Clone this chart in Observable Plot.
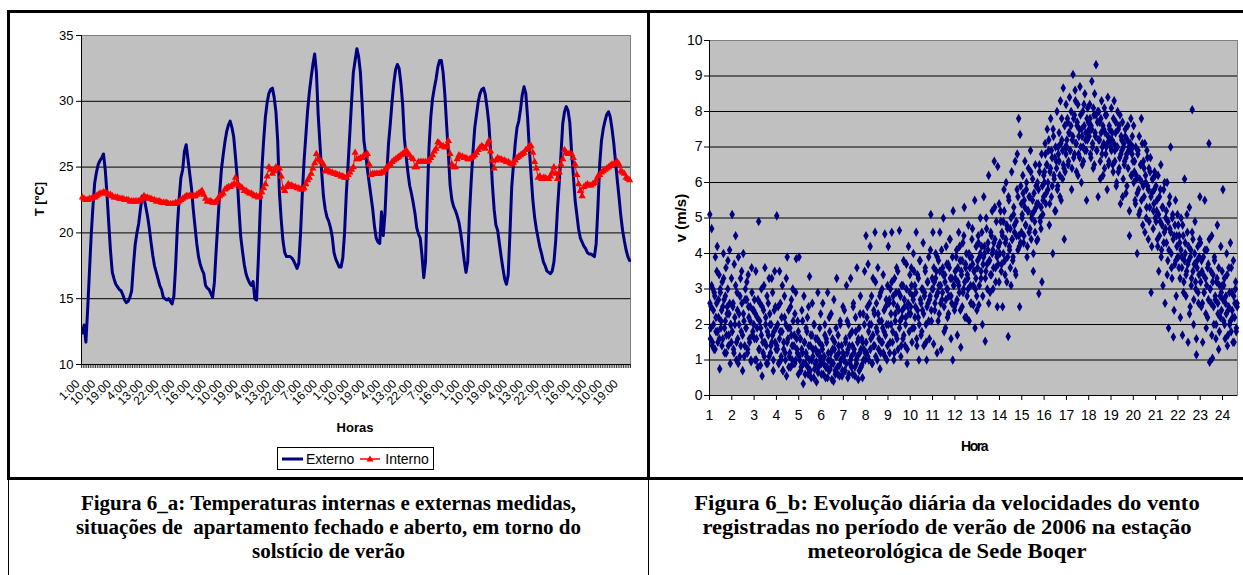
<!DOCTYPE html>
<html>
<head>
<meta charset="utf-8">
<script src="https://cdn.jsdelivr.net/npm/d3@7"></script>
<script src="https://cdn.jsdelivr.net/npm/@observablehq/plot@0.6"></script>
<style>
  html, body { margin: 0; padding: 0; background: #fff; }
  #page { position: relative; width: 1243px; height: 575px; overflow: hidden; background: #fff; font-family: "Liberation Sans", Arial, sans-serif; }
  .b { position: absolute; background: #000; }
  .cap { position: absolute; text-align: center; font-family: "Liberation Serif", "Times New Roman", serif; font-weight: bold; font-size: 20px; line-height: 24px; color: #000; transform-origin: center top; }
  .lbl { position: absolute; font-weight: bold; color: #000; white-space: nowrap; }
  #legend { position: absolute; left: 277px; top: 447px; width: 155px; height: 21px; border: 1px solid #000; background: #fff; font-size: 14px; display: flex; align-items: center; }
  #left, #right { position: absolute; top: 0; }
  #left { left: 0; } #right { left: 651px; }
</style>
</head>
<body>
<div id="page">
  <div id="left"></div>
  <div id="right"></div>
  <div class="lbl" style="left:39px;top:199px;font-size:13px;transform:translate(-50%,-50%) rotate(-90deg);">T [ºC]</div>
  <div class="lbl" style="left:355px;top:427px;font-size:13px;transform:translate(-50%,-50%);">Horas</div>
  <div class="lbl" style="left:680px;top:218px;font-size:15px;transform:translate(-50%,-50%) rotate(-90deg);">v (m/s)</div>
  <div class="lbl" style="left:974px;top:446px;font-size:14px;letter-spacing:-1.5px;transform:translate(-50%,-50%);">Hora</div>
  <div id="legend">
    <svg width="24" height="10" style="margin-left:4px"><line x1="0" y1="5" x2="21" y2="5" stroke="#000080" stroke-width="3"/></svg>
    <span>Externo</span>
    <svg width="24" height="12" style="margin-left:6px"><line x1="0" y1="6" x2="20" y2="6" stroke="#ff0000" stroke-width="1.5"/><path d="M10,2.5 L13.5,8.5 L6.5,8.5 Z" fill="#ff0000"/></svg>
    <span style="margin-left:1px">Interno</span>
  </div>
  <div class="b" style="left:7px;top:10px;width:1236px;height:3px"></div>
  <div class="b" style="left:7px;top:10px;width:3px;height:470px"></div>
  <div class="b" style="left:647px;top:10px;width:3px;height:470px"></div>
  <div class="b" style="left:7px;top:477px;width:1236px;height:3px"></div>
  <div class="b" style="left:8px;top:480px;width:1px;height:95px"></div>
  <div class="b" style="left:648px;top:480px;width:1px;height:95px"></div>
  <div class="cap" style="left:9px;width:639px;top:491px;transform:scaleX(1.05);">Figura 6_a: Temperaturas internas e externas medidas,<br>situações de&nbsp; apartamento fechado e aberto, em torno do<br>solstício de verão</div>
  <div class="cap" style="left:651px;width:592px;top:491px;transform:scaleX(1.13);">Figura 6_b: Evolução diária da velocidades do vento<br>registradas no período de verão de 2006 na estação<br>meteorológica de Sede Boqer</div>
</div>
<script>
// ---------- Figura 6_a : hourly temperatures (13 days x 24 h) ----------
const externo = [
  12.4,13.0,11.7,14.2,17.0,19.8,22.0,23.8,24.6,25.2,25.5,25.7,26.0,24.8,22.9,20.7,18.6,17.0,16.5,16.1,15.9,15.7,15.6,15.3,
  14.9,14.7,14.8,15.1,15.6,17.5,19.1,20.0,20.7,21.8,22.8,22.7,22.0,21.3,20.4,19.3,18.3,17.5,17.0,16.5,16.0,15.7,15.1,15.0,
  14.9,15.0,14.8,14.6,15.2,17.5,20.5,22.6,24.2,24.8,26.2,26.7,25.6,24.5,23.4,21.8,20.5,19.2,18.2,17.6,17.2,16.9,16.0,15.8,
  15.7,15.4,15.1,16.2,18.6,20.8,23.0,24.8,25.9,26.9,27.7,28.2,28.5,28.0,27.3,25.8,24.2,21.8,19.7,18.6,17.6,16.9,16.5,16.2,
  16.0,16.3,15.0,14.9,18.0,21.5,24.8,27.0,28.8,29.9,30.6,30.9,31.0,30.3,29.2,27.0,23.0,21.0,19.4,18.5,18.2,18.2,18.2,18.1,
  17.9,17.6,17.3,17.7,20.0,23.0,25.5,27.4,29.3,30.7,31.8,32.8,33.6,32.2,29.0,26.8,24.6,22.8,21.8,21.2,20.9,20.4,19.7,18.5,
  18.0,17.7,17.4,17.4,18.1,20.0,23.0,25.2,27.6,30.0,32.2,33.1,34.0,33.4,32.2,29.8,27.0,26.0,24.8,23.8,22.8,21.8,20.5,19.6,
  19.3,19.2,21.6,19.8,21.5,24.5,26.8,28.3,30.0,31.4,32.4,32.8,32.5,31.4,29.8,27.2,25.8,24.6,23.6,23.0,22.3,21.5,20.4,19.9,
  19.6,18.3,16.6,17.8,22.5,26.5,28.8,30.2,31.0,31.7,32.6,33.1,33.1,32.2,30.5,28.2,26.0,23.6,22.5,22.0,21.7,21.3,20.8,20.0,
  19.0,17.9,17.0,17.8,21.5,24.0,26.2,28.0,29.0,30.0,30.6,30.9,31.0,30.5,29.5,28.3,26.2,23.7,21.8,20.6,20.2,19.2,18.2,17.3,
  16.5,16.1,16.8,20.0,23.5,25.2,26.8,28.0,28.5,29.4,30.5,31.1,30.6,28.8,26.4,24.4,22.5,21.2,20.3,19.6,18.9,18.4,17.8,17.5,
  17.1,17.0,16.9,17.1,17.8,19.4,21.8,23.8,26.0,28.3,29.2,29.6,29.3,28.4,26.2,24.4,22.5,21.4,20.3,19.6,19.3,19.0,18.8,18.5,
  18.4,18.4,18.3,18.2,19.2,22.0,25.2,27.0,27.9,28.5,29.0,29.2,28.8,27.9,26.8,25.4,24.0,22.7,21.3,20.2,19.4,18.7,18.2,17.9
];
const interno = [
  22.7,22.6,22.5,22.5,22.6,22.6,22.7,22.7,22.8,22.9,23.0,23.0,23.1,23.1,23.0,22.9,22.9,22.8,22.7,22.7,22.7,22.6,22.6,22.6,
  22.5,22.5,22.5,22.4,22.4,22.4,22.4,22.4,22.4,22.5,22.6,22.8,22.7,22.7,22.6,22.6,22.5,22.5,22.4,22.4,22.4,22.3,22.3,22.3,
  22.3,22.2,22.2,22.2,22.2,22.3,22.3,22.4,22.5,22.6,22.7,22.8,22.8,22.8,22.8,22.8,22.8,22.9,23.0,23.1,23.2,22.9,22.6,22.4,
  22.4,22.4,22.3,22.3,22.4,22.6,22.8,22.9,23.0,23.3,23.4,23.5,23.5,23.6,23.7,24.2,23.8,23.6,23.5,23.4,23.2,23.2,23.1,23.0,
  23.0,22.9,22.8,22.8,22.7,22.8,23.1,23.4,23.7,24.3,25.0,24.8,24.5,24.7,25.0,24.9,24.9,24.3,23.4,23.2,23.5,23.7,23.6,23.6,
  23.5,23.5,23.4,23.4,23.3,23.3,23.4,23.7,24.0,24.2,24.5,24.9,25.3,26.0,25.6,25.5,25.4,25.2,24.7,24.7,24.7,24.6,24.6,24.5,
  24.5,24.4,24.4,24.3,24.3,24.2,24.2,24.4,24.6,24.8,25.0,26.1,25.6,25.6,25.7,25.7,25.9,25.9,26.0,25.2,24.4,24.5,24.5,24.5,
  24.5,24.5,24.6,24.6,24.8,25.0,25.1,25.2,25.4,25.5,25.6,25.7,25.8,25.9,26.0,26.1,26.3,26.0,25.9,25.7,25.6,25.0,25.0,25.4,
  25.4,25.4,25.4,25.4,25.4,25.5,25.7,25.9,26.2,26.4,26.9,26.8,26.6,26.6,26.5,26.6,27.0,26.0,25.2,25.0,25.0,25.6,25.9,25.8,
  25.8,25.7,25.7,25.6,25.6,25.7,25.8,25.9,26.1,26.3,26.5,26.6,26.5,26.4,26.7,27.0,26.2,25.5,24.9,25.5,25.7,25.6,25.6,25.5,
  25.5,25.4,25.4,25.3,25.2,25.3,25.5,25.7,25.8,25.9,26.0,26.1,26.3,26.4,26.6,26.6,26.1,25.4,24.9,24.2,24.3,24.1,24.2,24.2,
  24.1,24.1,24.3,24.6,25.0,24.5,24.1,24.6,25.2,25.6,26.3,26.1,26.0,26.0,26.0,25.7,25.2,24.4,23.7,23.2,22.8,23.5,23.6,23.7,
  23.6,23.6,23.7,23.8,24.0,24.3,24.4,24.6,24.7,24.8,24.9,25.0,25.1,25.2,25.2,25.3,25.4,25.2,24.7,24.6,24.5,24.2,24.1,24.0
];
// category tick labels, one every 9 hours
const horaLabels = ["1:00","10:00","19:00","4:00","13:00","22:00","7:00","16:00",
  "1:00","10:00","19:00","4:00","13:00","22:00","7:00","16:00",
  "1:00","10:00","19:00","4:00","13:00","22:00","7:00","16:00",
  "1:00","10:00","19:00","4:00","13:00","22:00","7:00","16:00",
  "1:00","10:00","19:00"];
const tempTicks = [10, 15, 20, 25, 30, 35];

// ---------- Figura 6_b : wind speed readings, grouped by hour of day ----------
// series A
const v01 = [5.1,1.6,2.5,4.7,1.4,3.0,2.0,1.3,2.8,3.9,1.8,2.6,4.2,1.5,2.2,3.4,0.75,2.9,1.9,2.4,3.2,1.6,4.0,2.7,1.2,2.1,3.6,1.7,2.5,3.0,1.4,2.3,4.1,0.9,2.0,3.3];
const v02 = [5.1,2.5,1.3,3.7,2.0,4.5,1.0,2.9,1.6,3.9,2.3,1.1,3.3,1.8,2.6,0.7,4.0,2.1,1.4,3.0,1.9,2.7,1.2,3.4,2.2,1.5,2.5,1.0,3.6,1.7,2.4,2.0];
const v03 = [2.7,1.0,3.5,1.6,2.2,0.8,4.9,1.3,2.6,1.9,3.0,0.55,1.5,2.4,1.1,3.6,2.0,1.4,2.8,0.9,1.7,3.3,2.3,1.2,2.0,1.5,2.9,0.7,1.8,3.5,2.5,1.3];
const v04 = [5.06,1.3,2.5,0.9,3.5,1.8,1.0,2.2,3.1,0.7,1.5,2.8,1.2,2.0,0.55,3.9,1.6,2.4,1.1,1.9,0.8,2.7,1.4,3.0,0.9,1.7,2.3,1.0,3.85,1.3,2.1,0.6];
const v05 = [3.9,1.0,1.6,0.8,2.4,1.2,0.33,2.8,1.5,0.9,1.9,1.1,2.2,0.6,1.4,3.35,0.7,1.7,1.0,2.6,1.3,0.5,2.0,0.9,1.6,0.38,1.2,2.9,0.8,1.5,1.1,2.3];
const v06 = [0.6,1.4,2.6,0.9,1.1,2.0,0.5,1.6,0.8,2.9,1.2,0.7,1.8,1.0,2.3,0.45,1.3,0.9,2.7,1.5,0.6,1.1,3.3,0.8,1.7,1.2,0.55,2.1,1.0,1.4,0.7,2.5];
const v07 = [1.0,2.4,0.7,1.6,3.1,1.2,0.5,2.0,1.4,0.9,3.3,1.1,1.8,0.6,2.6,1.3,0.8,2.2,1.0,3.6,1.5,0.45,1.9,1.2,2.8,0.8,1.6,0.5,2.3,1.3,3.5,1.0];
const v08 = [4.5,1.2,2.5,3.7,1.0,2.0,4.2,1.6,2.8,0.9,3.3,1.4,2.3,4.6,1.1,2.6,1.8,3.6,1.3,2.1,0.75,2.9,1.5,3.0,1.9,1.2,2.4,4.55,1.7,2.7,1.0,3.1];
const v09 = [4.2,2.6,1.2,3.0,2.0,4.6,1.5,2.8,1.0,3.3,2.3,1.7,3.6,2.5,1.3,2.9,4.65,2.1,1.1,3.1,2.4,1.6,3.8,2.7,1.4,2.2,3.0,0.9,2.5,4.2,1.8,3.4];
const v10 = [2.3,3.6,1.5,2.8,4.0,1.9,3.1,2.5,4.6,1.4,3.4,2.2,1.0,3.8,2.7,1.7,3.0,2.4,4.3,1.4,2.9,3.5,2.0,1.0,3.2,2.6,3.9,1.6,2.8,5.1,2.1,3.3];
const v11 = [4.6,1.45,3.2,2.6,4.0,3.5,1.2,2.9,3.8,2.3,4.6,3.1,1.3,2.7,3.6,5.0,2.5,3.4,1.9,4.2,3.0,2.2,3.7,2.8,4.4,3.3,1.6,2.6,3.9,5.2,3.1,2.4];
const v12 = [3.5,2.6,4.1,1.7,3.2,4.6,2.9,3.8,1.36,3.4,2.5,4.3,3.0,5.3,2.2,3.6,4.0,2.8,3.3,4.8,2.1,3.9,3.1,2.6,4.4,3.7,2.55,3.5,5.5,3.0,4.2,2.4];
const v13 = [3.6,4.5,2.55,3.9,5.0,3.3,4.2,2.0,3.7,5.6,4.0,1.53,3.5,4.7,3.0,4.3,6.2,3.8,2.9,4.6,3.4,5.2,4.1,3.6,6.6,4.4,3.2,4.9,3.9,6.45,4.2,5.4];
const v14 = [4.0,5.2,3.5,4.6,2.5,4.9,5.8,3.8,4.3,6.0,3.2,4.7,1.66,5.5,4.1,3.6,5.0,6.3,4.4,3.9,5.3,4.8,6.6,3.4,4.5,6.8,5.6,7.8,4.2,7.35,5.9,4.6];
const v15 = [5.0,6.2,4.3,5.5,6.6,4.8,5.8,3.9,5.2,6.4,4.6,5.6,6.9,4.4,5.1,6.1,3.5,5.7,4.9,6.5,5.3,4.35,6.0,5.4,2.87,6.3,5.0,4.7,6.8,5.9,5.5,6.2];
const v16 = [6.0,7.1,5.4,6.5,7.5,5.8,6.9,4.8,6.3,7.8,5.6,6.7,4.0,7.3,6.1,5.2,7.0,6.6,8.0,5.9,6.8,7.4,6.2,8.3,5.5,7.2,6.9,8.66,6.4,7.6,7.0,8.2];
const v17 = [7.0,7.8,6.5,7.4,8.4,6.9,7.6,5.8,7.2,9.04,6.7,7.9,8.6,7.1,6.3,7.7,8.2,6.8,7.5,8.7,7.0,6.0,7.3,8.0,6.6,7.6,8.5,7.2,6.9,7.8,8.1,7.4];
const v18 = [7.5,8.2,6.8,7.6,8.85,7.1,6.4,7.9,8.5,7.3,9.32,6.9,7.7,5.6,8.0,7.2,6.6,7.8,8.3,7.0,6.2,7.5,8.1,7.4,6.8,7.9,7.1,8.4,6.5,7.6,7.2,7.0];
const v19 = [8.1,7.2,6.5,7.8,8.3,6.9,7.4,5.9,7.0,8.0,6.3,7.6,6.7,5.4,7.3,6.9,7.7,6.1,7.1,6.6,7.5,5.7,6.8,7.2,6.4,7.0,4.5,6.9,7.8,6.2,7.3,6.6];
const v20 = [7.6,6.3,5.5,7.0,6.1,4.0,6.8,5.8,7.3,5.2,6.5,7.8,6.0,4.8,6.6,5.6,7.1,6.2,5.0,6.9,5.9,4.4,6.4,5.3,6.7,2.9,5.7,6.1,4.7,5.4,6.3,5.0];
const v21 = [5.9,5.2,4.4,6.2,3.5,5.6,4.9,6.5,4.1,5.3,3.1,5.8,4.6,2.6,5.0,4.3,6.0,3.8,1.9,5.4,4.7,7.0,4.0,3.3,5.1,1.65,4.5,3.7,5.5,2.8,4.2,3.9];
const v22 = [4.8,3.6,4.3,2.2,5.0,3.9,1.7,4.5,3.2,6.1,4.0,2.8,3.5,4.6,1.5,3.8,5.3,2.5,4.1,3.3,8.05,4.4,2.0,3.7,4.9,3.0,1.15,3.6,4.2,2.6,3.9,5.6];
const v23 = [4.3,2.5,3.5,1.5,3.9,2.9,5.5,3.3,1.9,4.1,2.2,3.7,7.1,0.94,3.0,2.6,4.5,1.05,3.4,2.0,3.8,2.7,1.6,3.2,4.8,2.3,3.6,1.8,2.8,4.2,2.4,3.1];
const v24 = [5.8,2.1,3.3,1.6,2.8,4.0,1.4,2.4,3.6,2.0,4.3,1.8,2.9,2.2,3.8,1.5,2.6,3.2,1.9,2.5];
// series B
const w01 = [2.6,1.9,3.1,1.5,2.4,2.9,1.3,2.2,3.5,1.8,2.7,1.6,3.0,2.1,1.4,2.5,3.3,1.9,2.8,1.2,2.3,3.8,1.7,2.6,2.0,1.5];
const w02 = [1.8,2.6,1.2,2.2,3.1,1.5,2.4,0.9,2.0,2.8,1.4,3.5,1.7,2.3,1.1,2.7,1.9,3.2,1.3,2.5,1.6,2.1,0.95,2.9,1.8,2.4];
const w03 = [1.6,2.3,1.0,1.9,2.7,1.3,2.1,0.85,1.7,2.5,1.2,3.1,1.5,2.2,0.9,1.8,2.6,1.1,2.0,1.4,3.3,1.7,1.0,2.4,1.5,1.9];
const w04 = [1.4,2.0,0.9,1.6,2.6,1.1,1.8,0.7,1.3,2.2,1.0,3.3,1.5,1.9,0.8,1.2,2.5,1.7,1.0,2.1,1.4,0.9,2.9,1.6,1.2,1.8];
const w05 = [1.1,1.6,0.7,1.3,2.1,0.9,1.5,0.6,1.2,1.8,0.8,2.5,1.0,1.4,0.5,1.7,1.1,2.0,0.75,1.3,0.95,1.6,0.65,1.2,1.9,1.0];
const w06 = [0.9,1.3,0.6,1.1,1.7,0.8,1.5,0.5,1.0,2.2,0.75,1.2,0.9,1.6,0.4,1.3,0.7,1.9,1.1,0.6,1.4,0.85,2.0,1.0,0.55,1.2];
const w07 = [1.1,0.7,1.5,0.9,2.1,1.3,0.6,1.7,1.0,0.8,1.4,2.5,1.2,0.55,1.8,0.9,1.1,1.6,0.7,2.3,1.3,0.85,1.5,1.0,2.0,1.2];
const w08 = [1.5,2.2,1.1,1.8,2.6,1.3,2.0,0.9,1.7,2.4,1.4,3.2,1.9,1.0,2.3,1.6,2.8,1.2,2.1,1.5,3.4,1.8,1.1,2.5,2.0,1.4];
const w09 = [2.0,2.7,1.5,2.3,3.2,1.8,2.6,1.2,2.1,2.9,1.6,3.5,2.4,1.9,2.8,1.4,2.2,3.1,1.7,2.5,2.0,3.7,1.3,2.6,2.3,2.9];
const w10 = [2.5,3.1,1.9,2.7,3.5,2.2,2.9,1.6,2.4,3.3,2.0,3.8,2.6,1.8,3.0,2.3,2.8,3.6,1.5,2.5,3.2,2.1,2.7,4.1,2.4,3.0];
const w11 = [3.0,3.6,2.4,3.3,2.8,3.9,2.1,3.1,3.5,2.6,4.1,2.9,3.4,1.8,3.2,2.7,3.7,3.0,2.3,3.6,4.4,2.8,3.3,1.0,3.1,2.5];
const w12 = [3.3,3.9,2.7,3.6,3.1,4.2,2.4,3.5,3.8,2.9,4.5,3.2,3.7,2.2,3.4,3.0,4.0,3.6,2.6,3.9,4.7,3.1,3.5,1.9,3.3,2.8];
const w13 = [3.8,4.3,3.1,4.0,3.5,4.6,2.8,3.9,4.2,3.3,5.0,3.7,4.1,2.6,3.8,3.4,4.5,4.0,3.0,4.3,5.3,3.6,4.0,2.5,3.7,3.2];
const w14 = [4.3,4.9,3.7,4.5,4.0,5.2,3.4,4.4,4.8,3.9,5.6,4.2,4.7,3.1,4.4,3.8,5.1,4.6,3.5,4.9,5.8,4.1,4.5,2.5,4.3,5.4];
const w15 = [5.1,5.7,4.5,5.3,4.8,6.0,4.2,5.2,5.6,4.7,6.3,5.0,5.5,4.0,5.2,4.6,5.9,5.4,4.4,5.8,6.5,4.9,5.3,3.2,5.1,5.6];
const w16 = [6.3,6.8,5.7,6.5,6.0,7.2,5.4,6.4,6.9,5.9,7.5,6.2,6.7,5.2,6.4,5.8,7.0,6.6,5.6,7.1,7.8,6.1,6.5,4.4,6.3,6.8];
const w17 = [7.2,7.7,6.6,7.4,6.9,8.0,6.4,7.3,7.8,6.8,8.3,7.1,7.6,6.2,7.3,6.7,7.9,7.5,6.5,7.0,8.2,6.9,7.4,5.5,7.2,7.7];
const w18 = [7.3,7.8,6.7,7.5,7.0,8.1,6.5,7.4,7.9,6.9,8.0,7.2,7.7,6.1,7.4,6.8,7.6,7.1,6.4,7.9,7.0,5.8,7.3,6.6,7.5,7.2];
const w19 = [6.9,7.4,6.3,7.1,6.6,7.7,6.0,7.0,7.5,6.4,7.9,6.8,7.2,5.6,7.0,6.5,7.3,6.7,5.9,7.6,6.9,5.2,7.1,6.2,6.8,7.0];
const w20 = [6.0,6.6,5.4,6.2,5.7,6.9,5.1,6.1,6.5,5.5,7.1,5.9,6.4,4.6,6.0,5.3,6.7,5.8,4.9,6.3,5.6,4.2,6.1,5.2,5.8,6.2];
const w21 = [4.9,5.5,4.2,5.1,4.5,5.8,3.9,4.8,5.3,4.3,6.0,4.7,5.2,3.4,4.9,4.1,5.6,4.6,3.6,5.0,4.4,2.4,4.8,3.8,4.5,5.1];
const w22 = [3.9,4.5,3.3,4.1,3.6,4.8,2.9,3.8,4.3,3.4,5.1,3.7,4.2,2.3,3.9,3.1,4.6,3.5,2.7,4.0,3.2,1.6,3.8,2.9,3.4,4.4];
const w23 = [3.2,3.8,2.6,3.4,2.9,4.1,2.3,3.1,3.6,2.7,4.4,3.0,3.5,1.7,3.2,2.5,3.9,2.8,2.0,3.3,2.6,1.3,3.1,2.2,2.9,3.5];
const w24 = [2.7,3.1,2.0,2.6,2.3,3.4,1.7,2.5,2.9,2.1,3.6,2.4,1.5,2.8,2.2,3.0,1.8,2.6];
const ventoA = [v01,v02,v03,v04,v05,v06,v07,v08,v09,v10,v11,v12,v13,v14,v15,v16,v17,v18,v19,v20,v21,v22,v23,v24];
const ventoB = [w01,w02,w03,w04,w05,w06,w07,w08,w09,w10,w11,w12,w13,w14,w15,w16,w17,w18,w19,w20,w21,w22,w23,w24];
const horaTicks = d3.range(1, 25);
const ventoTicks = d3.range(0, 11);

// ---------- build tables ----------
const tempRows = externo.map((e, i) => ({i, externo: e, interno: interno[i]}));
const ventoRows = [];
for (const serie of [ventoA, ventoB]) {
  serie.forEach((vals, h) => {
    const span = h === 23 ? 0.67 : 1; // readings within each hour; last hour is cut by the axis end
    vals.forEach((v, k) => ventoRows.push({hora: h + 1 + (k + 0.5) / vals.length * span, v}));
  });
}

const font = {fontFamily: "'Liberation Sans', Arial, sans-serif", fontSize: "13px", background: "transparent", overflow: "visible"};

// ---------- left chart ----------
const left = Plot.plot({
  width: 648, height: 480,
  marginLeft: 81, marginRight: 18, marginTop: 35, marginBottom: 116,
  style: font,
  x: {domain: [-0.5, externo.length - 0.5], axis: null},
  y: {domain: [10, 35], axis: null},
  marks: [
    Plot.frame({fill: "#c0c0c0", stroke: "#808080"}),
    Plot.ruleY(tempTicks.slice(1, -1), {stroke: "#000"}),
    Plot.ruleY([10], {stroke: "#000"}),
    Plot.ruleX([-0.5], {stroke: "#000"}),
    Plot.axisY({ticks: tempTicks, tickSize: 5, tickPadding: 3, fontSize: 13, label: null}),
    Plot.axisX({ticks: d3.range(externo.length + 1).map(d => d - 0.5), tickSize: 4, tickFormat: () => "", strokeWidth: 0.8, label: null}),
    Plot.text(horaLabels.map((t, k) => ({x: k * 9, t})), {x: "x", text: "t", frameAnchor: "bottom", rotate: -45, textAnchor: "end", dy: 20, dx: -2, fontSize: 12}),
    Plot.line(tempRows, {x: "i", y: "externo", stroke: "#000080", strokeWidth: 3, strokeLinejoin: "round"}),
    Plot.line(tempRows, {x: "i", y: "interno", stroke: "#ff0000", strokeWidth: 1}),
    Plot.dot(tempRows, {x: "i", y: "interno", symbol: "triangle", fill: "#ff0000", r: 2.7, stroke: null})
  ]
});
document.getElementById("left").append(left);

// ---------- right chart ----------
const right = Plot.plot({
  width: 592, height: 477,
  marginLeft: 58, marginRight: 6, marginTop: 40, marginBottom: 82,
  style: font,
  x: {domain: [1, 24.67], axis: null},
  y: {domain: [0, 10], axis: null},
  marks: [
    Plot.frame({fill: "#c0c0c0", stroke: "#808080"}),
    Plot.ruleY(ventoTicks.slice(1, -1), {stroke: "#000"}),
    Plot.ruleY([0], {stroke: "#000"}),
    Plot.ruleX([1], {stroke: "#000"}),
    Plot.axisY({ticks: ventoTicks, tickSize: 5, tickPadding: 2, fontSize: 14, label: null}),
    Plot.axisX({ticks: horaTicks, tickSize: 5, tickPadding: 10, fontSize: 14, label: null}),
    Plot.dot(ventoRows, {x: "hora", y: "v", symbol: "diamond", fill: "#000080", r: 2.9, stroke: null})
  ]
});
document.getElementById("right").append(right);
</script>
</body>
</html>
